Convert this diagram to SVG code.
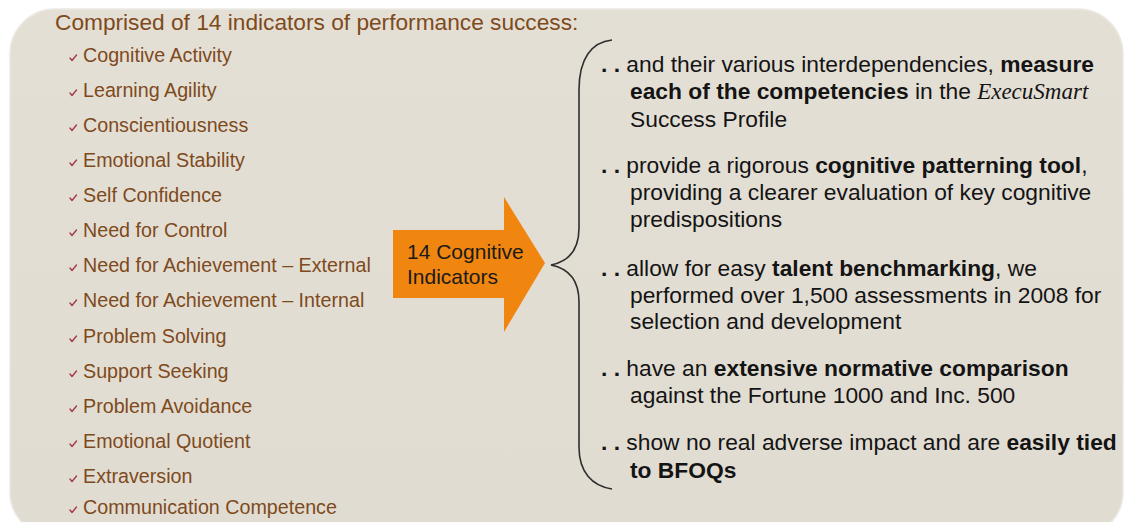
<svg xmlns="http://www.w3.org/2000/svg" width="1125" height="522" viewBox="0 0 1125 522">
<style>
.hdr{font-family:"Liberation Sans",Arial,sans-serif;font-size:22.7px;fill:#7E4A1C}
.item{font-family:"Liberation Sans",Arial,sans-serif;font-size:19.7px;fill:#7E4A1C}
.chk{fill:none;stroke:#A33A4C;stroke-width:1.4;stroke-linecap:round;stroke-linejoin:round}
.rt{font-family:"Liberation Sans",Arial,sans-serif;font-size:22.8px;fill:#141414}
.b{font-weight:bold}
.em{font-family:"Liberation Serif","Times New Roman",serif;font-style:italic;font-size:23px}
.arrtxt{font-family:"Liberation Sans",Arial,sans-serif;font-size:21px;fill:#1A1A1A}
</style>
<defs>
<linearGradient id="bg" x1="0" y1="0" x2="0" y2="1">
<stop offset="0" stop-color="#E4DFD5"/>
<stop offset="1" stop-color="#E1DCD2"/>
</linearGradient>
</defs>
<rect width="1125" height="522" fill="#FFFFFF"/>
<g id="panel">
<rect x="10" y="9" width="1113" height="528" rx="45" ry="45" fill="url(#bg)" stroke="#ECE9E3" stroke-width="1.5"/>
</g>
<g id="header">
<text class="hdr" x="55" y="30">Comprised of 14 indicators of performance success:</text>
</g>
<g id="indicator-list">
<path class="chk" d="M70,58 l2,2.5 l4.5,-5.5"/><text class="item" x="83" y="62">Cognitive Activity</text>
<path class="chk" d="M70,93 l2,2.5 l4.5,-5.5"/><text class="item" x="83" y="97">Learning Agility</text>
<path class="chk" d="M70,128 l2,2.5 l4.5,-5.5"/><text class="item" x="83" y="132">Conscientiousness</text>
<path class="chk" d="M70,163 l2,2.5 l4.5,-5.5"/><text class="item" x="83" y="167">Emotional Stability</text>
<path class="chk" d="M70,198 l2,2.5 l4.5,-5.5"/><text class="item" x="83" y="202">Self Confidence</text>
<path class="chk" d="M70,233 l2,2.5 l4.5,-5.5"/><text class="item" x="83" y="237">Need for Control</text>
<path class="chk" d="M70,268 l2,2.5 l4.5,-5.5"/><text class="item" x="83" y="272">Need for Achievement – External</text>
<path class="chk" d="M70,303 l2,2.5 l4.5,-5.5"/><text class="item" x="83" y="307">Need for Achievement – Internal</text>
<path class="chk" d="M70,339 l2,2.5 l4.5,-5.5"/><text class="item" x="83" y="343">Problem Solving</text>
<path class="chk" d="M70,374 l2,2.5 l4.5,-5.5"/><text class="item" x="83" y="378">Support Seeking</text>
<path class="chk" d="M70,409 l2,2.5 l4.5,-5.5"/><text class="item" x="83" y="413">Problem Avoidance</text>
<path class="chk" d="M70,444 l2,2.5 l4.5,-5.5"/><text class="item" x="83" y="448">Emotional Quotient</text>
<path class="chk" d="M70,479 l2,2.5 l4.5,-5.5"/><text class="item" x="83" y="483">Extraversion</text>
<path class="chk" d="M70,510 l2,2.5 l4.5,-5.5"/><text class="item" x="83" y="514">Communication Competence</text>
</g>
<g id="arrow">
<path d="M393,230 L504,230 L504,197 L545,263 L504,332 L504,298 L393,298 Z" fill="#F0860F"/>
<text class="arrtxt" x="407" y="259">14 Cognitive</text>
<text class="arrtxt" x="407" y="284">Indicators</text>
</g>
<g id="connectors">
<path d="M612,40 C592,42 579,58 579,90 L579,228 C579,252 566,262 551,265 C566,268 579,278 579,302 L579,447 C579,472 592,486 612,489" fill="none" stroke="#2E2E2E" stroke-width="1.6"/>
</g>
<g id="points">
<text class="rt" x="601" y="72"><tspan class="b">. . </tspan>and their various interdependencies, <tspan class="b">measure</tspan></text>
<text class="rt" x="630" y="99"><tspan class="b">each of the competencies</tspan> in the <tspan class="em">ExecuSmart</tspan></text>
<text class="rt" x="630" y="127">Success Profile</text>
<text class="rt" x="601" y="173"><tspan class="b">. . </tspan>provide a rigorous <tspan class="b">cognitive patterning tool</tspan>,</text>
<text class="rt" x="630" y="200">providing a clearer evaluation of key cognitive</text>
<text class="rt" x="630" y="227">predispositions</text>
<text class="rt" x="601" y="276"><tspan class="b">. . </tspan>allow for easy <tspan class="b">talent benchmarking</tspan>, we</text>
<text class="rt" x="630" y="303">performed over 1,500 assessments in 2008 for</text>
<text class="rt" x="630" y="329">selection and development</text>
<text class="rt" x="601" y="376"><tspan class="b">. . </tspan>have an <tspan class="b">extensive normative comparison</tspan></text>
<text class="rt" x="630" y="403">against the Fortune 1000 and Inc. 500</text>
<text class="rt" x="601" y="450"><tspan class="b">. . </tspan>show no real adverse impact and are <tspan class="b">easily tied</tspan></text>
<text class="rt" x="630" y="478"><tspan class="b">to BFOQs</tspan></text>
</g>
</svg>
